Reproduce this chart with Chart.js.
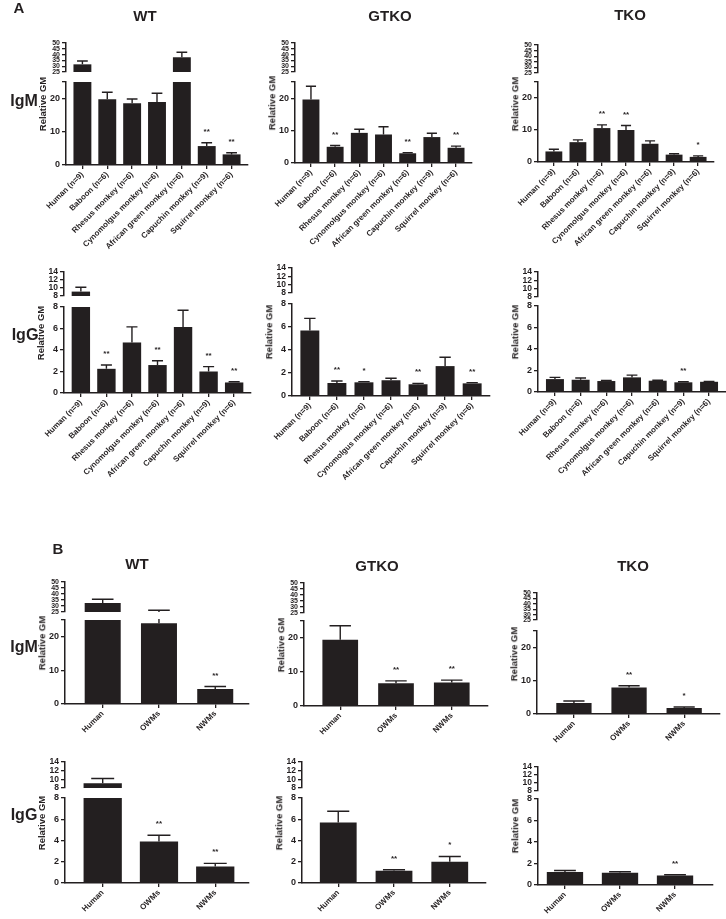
<!DOCTYPE html>
<html>
<head>
<meta charset="utf-8">
<script src="https://cdn.jsdelivr.net/npm/chart.js@4.4.0/dist/chart.umd.min.js"></script>
<style>
  body { margin: 0; background: #fff; width: 726px; height: 919px; position: relative; overflow: hidden;
         font-family: "Liberation Sans", Arial, sans-serif; font-weight: bold; color: #231f20; }
  .t { position: absolute; white-space: nowrap; transform: translate(-50%, -50%); line-height: 1; }
  .r { position: absolute; white-space: nowrap; transform: translate(-50%, -50%) rotate(-90deg); line-height: 1; }
</style>
</head>
<body>
<script>
// categories
const speciesLabels = ["Human (n=9)", "Baboon (n=6)", "Rhesus monkey (n=6)", "Cynomolgus monkey (n=6)",
  "African green monkey (n=6)", "Capuchin monkey (n=9)", "Squirrel monkey (n=6)"];
const groupLabels = ["Human", "OWMs", "NWMs"];

// tick labels of the broken axes
const igmTicksLow = [0, 10, 20, 25];
const igmTicksHigh = [25, 30, 35, 40, 45, 50];
const iggTicksLow = [0, 2, 4, 6, 8];
const iggTicksHigh = [8, 10, 12, 14];

// A, IgM (mean, SEM, significance)
const aIgmWT = [31.6, 19.8, 18.6, 19.0, 37.7, 5.7, 3.2];
const aIgmWTErr = [2.9, 2.1, 1.3, 2.6, 4.3, 1.0, 0.5];
const aIgmWTSig = ["", "", "", "", "", "**", "**"];
const aIgmGTKO = [19.6, 5.0, 9.3, 8.8, 3.0, 8.0, 4.7];
const aIgmGTKOErr = [4.1, 0.4, 1.1, 2.4, 0.2, 1.2, 0.5];
const aIgmGTKOSig = ["", "**", "", "", "**", "", "**"];
const aIgmTKO = [3.3, 6.2, 10.6, 10.0, 5.7, 2.3, 1.6];
const aIgmTKOErr = [0.7, 0.7, 1.0, 1.4, 0.9, 0.3, 0.3];
const aIgmTKOSig = ["", "", "**", "**", "", "", "*"];

// A, IgG
const aIggWT = [9.1, 2.25, 4.7, 2.6, 6.15, 2.0, 0.98];
const aIggWTErr = [1.1, 0.35, 1.45, 0.4, 1.55, 0.45, 0.07];
const aIggWTSig = ["", "**", "", "**", "", "**", "**"];
const aIggGTKO = [5.7, 1.13, 1.19, 1.37, 1.02, 2.6, 1.1];
const aIggGTKOErr = [1.05, 0.17, 0.06, 0.17, 0.08, 0.77, 0.06];
const aIggGTKOSig = ["", "**", "*", "", "**", "", "**"];
const aIggTKO = [1.2, 1.14, 1.02, 1.36, 1.05, 0.9, 0.95];
const aIggTKOErr = [0.16, 0.16, 0.06, 0.21, 0.04, 0.05, 0.03];
const aIggTKOSig = ["", "", "", "", "", "**", ""];

// B, IgM
const bIgmWT = [32.5, 24.0, 4.5];
const bIgmWTErr = [3.1, 2.5, 0.7];
const bIgmWTSig = ["", "", "**"];
const bIgmGTKO = [19.5, 6.7, 6.9];
const bIgmGTKOErr = [4.1, 0.7, 0.7];
const bIgmGTKOSig = ["", "**", "**"];
const bIgmTKO = [3.3, 8.0, 1.8];
const bIgmTKOErr = [0.6, 0.5, 0.3];
const bIgmTKOSig = ["", "**", "*"];

// B, IgG
const bIggWT = [9.1, 3.9, 1.55];
const bIggWTErr = [1.1, 0.6, 0.3];
const bIggWTSig = ["", "**", "**"];
const bIggGTKO = [5.7, 1.15, 2.0];
const bIggGTKOErr = [1.05, 0.1, 0.5];
const bIggGTKOSig = ["", "**", "*"];
const bIggTKO = [1.2, 1.13, 0.88];
const bIggTKOErr = [0.15, 0.1, 0.07];
const bIggTKOSig = ["", "", "**"];

Chart.defaults.font.family = '"Liberation Sans", Arial, sans-serif';
Chart.defaults.font.weight = "bold";
Chart.defaults.color = "#231f20";
Chart.defaults.animation = false;

const ink = "#231f20";
const AXIS_W = 60, PAD = 8, PAD_R = 10;

const axisKinds = {
  M: { brk: 25, top: 50, low: igmTicksLow, high: igmTicksHigh, highFont: 7, hideBrkLabel: true },
  G: { brk: 8, top: 14, low: iggTicksLow, high: iggTicksHigh, highFont: 8.5, hideBrkLabel: false }
};

// layout of the 12 panels (pixel positions of axes)
const panels = [
  { labels: speciesLabels, v: aIgmWT, e: aIgmWTErr, s: aIgmWTSig, k: "M", axisX: 66, right: 248, u: [43, 72], l: [82, 165], xH: 95, bp: 0.72, padL: 0.66, padR: 0.66 },
  { labels: speciesLabels, v: aIgmGTKO, e: aIgmGTKOErr, s: aIgmGTKOSig, k: "M", axisX: 295, right: 472, u: [43, 72], l: [82, 163], xH: 95, bp: 0.7, padL: 0.66, padR: 0.66 },
  { labels: speciesLabels, v: aIgmTKO, e: aIgmTKOErr, s: aIgmTKOSig, k: "M", axisX: 538, right: 714, u: [45, 73], l: [82, 162], xH: 95, bp: 0.7, padL: 0.66, padR: 0.66 },
  { labels: speciesLabels, v: aIggWT, e: aIggWTErr, s: aIggWTSig, k: "G", axisX: 64, right: 251, u: [272, 296], l: [307, 393], xH: 95, bp: 0.72, padL: 0.66, padR: 0.66 },
  { labels: speciesLabels, v: aIggGTKO, e: aIggGTKOErr, s: aIggGTKOSig, k: "G", axisX: 292, right: 490, u: [268, 293], l: [304, 396], xH: 95, bp: 0.7, padL: 0.66, padR: 0.66 },
  { labels: speciesLabels, v: aIggTKO, e: aIggTKOErr, s: aIggTKOSig, k: "G", axisX: 538, right: 726, u: [272, 297], l: [306, 392], xH: 95, bp: 0.7, padL: 0.66, padR: 0.66 },
  { labels: groupLabels, v: bIgmWT, e: bIgmWTErr, s: bIgmWTSig, k: "M", axisX: 65, right: 249, u: [582, 612], l: [620, 704], xH: 45, bp: 0.64, padL: 0.67, padR: 0.6 },
  { labels: groupLabels, v: bIgmGTKO, e: bIgmGTKOErr, s: bIgmGTKOSig, k: "M", axisX: 304, right: 488, u: [583, 613], l: [621, 706], xH: 45, bp: 0.64, padL: 0.65, padR: 0.65 },
  { labels: groupLabels, v: bIgmTKO, e: bIgmTKOErr, s: bIgmTKOSig, k: "M", axisX: 537, right: 720, u: [593, 620], l: [631, 714], xH: 45, bp: 0.64, padL: 0.67, padR: 0.65 },
  { labels: groupLabels, v: bIggWT, e: bIggWTErr, s: bIggWTSig, k: "G", axisX: 65, right: 249, u: [762, 788], l: [798, 883], xH: 36, bp: 0.68, padL: 0.67, padR: 0.6 },
  { labels: groupLabels, v: bIggGTKO, e: bIggGTKOErr, s: bIggGTKOSig, k: "G", axisX: 302, right: 486, u: [762, 788], l: [798, 883], xH: 36, bp: 0.66, padL: 0.65, padR: 0.65 },
  { labels: groupLabels, v: bIggTKO, e: bIggTKOErr, s: bIggTKOSig, k: "G", axisX: 538, right: 713, u: [767, 791], l: [799, 885], xH: 34, bp: 0.66, padL: 0.49, padR: 0.69 }
];

// error bars (mean + SEM, top whisker only) and significance stars
function errBars(p, withStars) {
  return {
    id: "errBars",
    afterDatasetsDraw(chart) {
      const { ctx, chartArea: a } = chart;
      const ys = chart.scales.y;
      const bars = chart.getDatasetMeta(0).data;
      ctx.save();
      ctx.beginPath();
      // clip to the segment so whiskers stop at the axis break
      ctx.rect(a.left - 20, a.top - 1, a.right - a.left + 40, a.bottom - a.top + 1);
      ctx.clip();
      ctx.strokeStyle = ink;
      ctx.lineWidth = 1.4;
      bars.forEach((bar, i) => {
        const y0 = ys.getPixelForValue(p.v[i]);
        const y1 = ys.getPixelForValue(p.v[i] + p.e[i]);
        const half = bar.width * 0.3;
        ctx.beginPath();
        ctx.moveTo(bar.x, y0);
        ctx.lineTo(bar.x, y1);
        ctx.moveTo(bar.x - half, y1);
        ctx.lineTo(bar.x + half, y1);
        ctx.stroke();
      });
      ctx.restore();
      if (!withStars) return;
      ctx.save();
      ctx.fillStyle = ink;
      ctx.font = 'bold 8px "Liberation Sans", Arial, sans-serif';
      ctx.textAlign = "center";
      ctx.textBaseline = "alphabetic";
      bars.forEach((bar, i) => {
        if (!p.s[i]) return;
        const y1 = ys.getPixelForValue(p.v[i] + p.e[i]);
        ctx.fillText(p.s[i], bar.x, y1 - 9);
      });
      ctx.restore();
    }
  };
}

function yAxis(min, max, ticks, size, cb) {
  return {
    min: min, max: max,
    afterBuildTicks: s => { s.ticks = ticks.map(v => ({ value: v })); },
    afterFit: s => { s.width = AXIS_W; },
    ticks: { font: { size: size }, padding: 2, color: ink, autoSkip: false, callback: cb },
    grid: { drawOnChartArea: false, color: ink, lineWidth: 1.3, tickLength: 4 },
    border: { color: ink, width: 1.5 }
  };
}

function xAxis(p, show) {
  const n = p.labels.length;
  const axis = {
    type: "linear", display: show, offset: false, min: -p.padL, max: n - 1 + p.padR,
    afterBuildTicks: s => { s.ticks = p.labels.map((_, i) => ({ value: i })); },
    ticks: { autoSkip: false, minRotation: 45, maxRotation: 45, font: { size: 8 }, padding: 1, color: ink,
             callback: v => p.labels[v] },
    grid: { drawOnChartArea: false, offset: false, color: ink, lineWidth: 1.3, tickLength: 4 },
    border: { color: ink, width: 1.5 }
  };
  if (show) axis.afterFit = s => { s.height = p.xH; };
  return axis;
}

function addCanvas(left, top, width, height) {
  const c = document.createElement("canvas");
  c.width = width;
  c.height = height;
  c.style.cssText = "position:absolute;left:" + left + "px;top:" + top + "px;width:" + width + "px;height:" + height + "px";
  document.body.appendChild(c);
  return c.getContext("2d");
}

function drawPanel(p) {
  const kind = axisKinds[p.k];
  const left = p.axisX - AXIS_W;
  const width = p.right - left + PAD_R;
  const dataset = () => ({
    data: p.v.map((v, i) => ({ x: i, y: v })),
    backgroundColor: ink, borderWidth: 0, barPercentage: p.bp, categoryPercentage: 1
  });
  const common = {
    responsive: false, animation: false, events: [],
    plugins: { legend: { display: false }, tooltip: { enabled: false } }
  };

  // lower segment with the category axis
  new Chart(addCanvas(left, p.l[0] - PAD, width, p.l[1] - p.l[0] + PAD + p.xH), {
    type: "bar",
    data: { datasets: [dataset()] },
    options: Object.assign({}, common, {
      layout: { padding: { left: 0, right: PAD_R, top: PAD, bottom: 0 } },
      scales: {
        x: xAxis(p, true),
        y: yAxis(0, kind.brk, kind.low, 9, v => (kind.hideBrkLabel && v === kind.brk ? "" : v))
      }
    }),
    plugins: [errBars(p, true)]
  });

  // upper segment above the break
  new Chart(addCanvas(left, p.u[0] - PAD, width, p.u[1] - p.u[0] + 2 * PAD), {
    type: "bar",
    data: { datasets: [dataset()] },
    options: Object.assign({}, common, {
      layout: { padding: { left: 0, right: PAD_R, top: PAD, bottom: PAD } },
      scales: {
        x: xAxis(p, false),
        y: yAxis(kind.brk, kind.top, kind.high, kind.highFont, v => v)
      }
    }),
    plugins: [errBars(p, false)]
  });

  text("Relative GM", p.axisX - 23, (p.u[0] + p.l[1]) / 2, 9.5, true);
}

function text(s, x, y, size, rotated) {
  const d = document.createElement("div");
  d.className = rotated ? "r" : "t";
  d.textContent = s;
  d.style.left = x + "px";
  d.style.top = y + "px";
  d.style.fontSize = size + "px";
  document.body.appendChild(d);
}

panels.forEach(drawPanel);

text("A", 19, 7, 15);
text("B", 58, 548, 15);
text("WT", 145, 15, 15);
text("GTKO", 390, 15, 15);
text("TKO", 630, 14, 15);
text("WT", 137, 563, 15);
text("GTKO", 377, 565, 15);
text("TKO", 633, 565, 15);
text("IgM", 24, 101, 16);
text("IgG", 25, 335, 16);
text("IgM", 24, 647, 16);
text("IgG", 24, 815, 16);
</script>
</body>
</html>
